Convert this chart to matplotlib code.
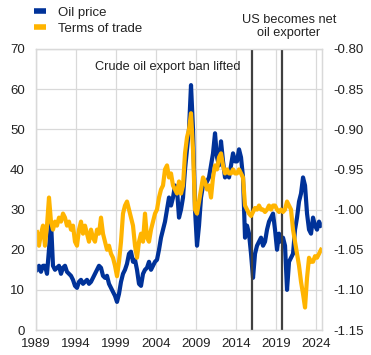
import matplotlib.pyplot as plt
import numpy as np
from matplotlib.lines import Line2D

plt.rcParams['font.family'] = ['Liberation Sans', 'DejaVu Sans']
plt.rcParams['axes.unicode_minus'] = False

# quarterly readings, 1989Q1 .. 2024Q3
oil_price = [
    15, 16, 14.5, 16,      # 1989
    16, 14, 20, 27,        # 1990
    16, 15, 15.5, 16,      # 1991
    14, 15.5, 16, 14.5,    # 1992
    14, 13.5, 12.5, 11,    # 1993
    10.5, 12, 12.5, 11.5,  # 1994
    12, 12.5, 11.5, 12,    # 1995
    13, 14, 15, 16,        # 1996
    15.5, 13.5, 13, 13.5,  # 1997
    11.5, 10.5, 9.5, 8.5,  # 1998
    7, 9, 12, 14,          # 1999
    15, 16.5, 19, 19.5,    # 2000
    17, 17.5, 15, 11.5,    # 2001
    11, 14, 15, 15.5,      # 2002
    17, 15, 16, 17,        # 2003
    17.5, 20, 23, 25,      # 2004
    27, 30, 33, 31,        # 2005
    33, 36, 35, 28,        # 2006
    30, 33, 40, 45,        # 2007
    50, 61, 50, 30,        # 2008
    21, 26, 33, 36,        # 2009
    36, 37, 38, 41,        # 2010
    44, 49, 43, 41,        # 2011
    47, 42, 38, 39,        # 2012
    38, 41, 44, 42,        # 2013
    42, 45, 43, 38,        # 2014
    23, 26, 24, 19,        # 2015
    13, 19, 21, 22,        # 2016
    23, 21, 22, 25,        # 2017
    27, 28, 29, 25,        # 2018
    20, 24, 22, 23,        # 2019
    21, 10, 17, 18,        # 2020
    19, 25, 28, 32,        # 2021
    34, 38, 36, 29,        # 2022
    25, 24, 28, 26,        # 2023
    25, 27, 26,            # 2024
]

terms_of_trade = [
    -1.028, -1.045, -1.030, -1.020,  # 1989
    -1.045, -1.020, -0.985, -1.015,  # 1990
    -1.025, -1.015, -1.020, -1.010,  # 1991
    -1.015, -1.005, -1.010, -1.020,  # 1992
    -1.015, -1.025, -1.020, -1.040,  # 1993
    -1.045, -1.025, -1.015, -1.030,  # 1994
    -1.020, -1.030, -1.040, -1.025,  # 1995
    -1.035, -1.040, -1.025, -1.030,  # 1996
    -1.010, -1.030, -1.040, -1.050,  # 1997
    -1.045, -1.055, -1.060, -1.070,  # 1998
    -1.083, -1.065, -1.040, -1.005,  # 1999
    -0.995, -0.990, -1.000, -1.010,  # 2000
    -1.020, -1.045, -1.060, -1.040,  # 2001
    -1.030, -1.040, -1.005, -1.035,  # 2002
    -1.040, -1.025, -1.015, -1.005,  # 2003
    -1.000, -0.985, -0.975, -0.970,  # 2004
    -0.950, -0.945, -0.960, -0.955,  # 2005
    -0.970, -0.975, -0.980, -0.965,  # 2006
    -0.980, -0.970, -0.930, -0.910,  # 2007
    -0.900, -0.880, -0.925, -1.000,  # 2008
    -1.005, -0.990, -0.975, -0.960,  # 2009
    -0.965, -0.975, -0.970, -0.985,  # 2010
    -0.960, -0.945, -0.950, -0.935,  # 2011
    -0.930, -0.945, -0.955, -0.950,  # 2012
    -0.955, -0.955, -0.950, -0.955,  # 2013
    -0.955, -0.950, -0.955, -0.960,  # 2014
    -0.995, -1.000, -1.005, -1.008,  # 2015
    -1.003, -0.998, -1.000, -0.995,  # 2016
    -1.000, -1.000, -1.003, -1.000,  # 2017
    -0.995, -1.000, -0.995, -0.995,  # 2018
    -1.000, -1.003, -1.000, -1.003,  # 2019
    -1.000, -0.990, -0.995, -1.000,  # 2020
    -1.025, -1.040, -1.055, -1.070,  # 2021
    -1.090, -1.105, -1.122, -1.085,  # 2022
    -1.060, -1.065, -1.065, -1.058,  # 2023
    -1.060, -1.055, -1.050,          # 2024
]

event_years = [2015.95, 2019.8]
year_ticks = [1989, 1994, 1999, 2004, 2009, 2014, 2019, 2024]

BLUE = '#003299'
YELLOW = '#FFB400'
GRID = '#d9d9d9'
TXT = '#222222'

# mid-quarter positions in decimal years
t = 1989 + (np.arange(len(oil_price)) + 0.5) / 4

fig = plt.figure(figsize=(3.71, 3.55), dpi=100)
ax = fig.add_axes([0.097, 0.0704, 0.771, 0.7916])
ax2 = ax.twinx()

ax.plot(t, oil_price, color=BLUE, lw=3.0, solid_joinstyle='round')
ax2.plot(t, terms_of_trade, color=YELLOW, lw=3.0, solid_joinstyle='round')

for x in event_years:
    ax.axvline(x, color='#404040', lw=1.6, zorder=3)

ax.set_xlim(1989, 2024.75)
ax.set_ylim(0, 70)
ax.set_yticks(range(0, 71, 10))
ax.set_xticks(year_ticks)
ax2.set_ylim(-1.15, -0.80)
ax2.set_yticks(np.arange(-1.15, -0.799, 0.05))
ax2.set_yticklabels([f'{v:.2f}' for v in np.arange(-1.15, -0.799, 0.05)])

ax.grid(True, color=GRID, lw=0.9)
ax.set_axisbelow(True)
for a in (ax, ax2):
    for s in a.spines.values():
        s.set_color(GRID)
        s.set_linewidth(0.9)
    a.tick_params(length=0, labelsize=9.5, colors=TXT)
ax.tick_params(axis='y', pad=8)
ax.tick_params(axis='x', pad=6)
ax2.tick_params(axis='y', pad=8)

ax.text(2014.6, 65.5, 'Crude oil export ban lifted', ha='right', va='center',
        fontsize=9.2, color=TXT)
ax.text(2020.6, 75.6, 'US becomes net\noil exporter', ha='center', va='center',
        fontsize=9.2, color=TXT, linespacing=1.05, clip_on=False)

handles = [Line2D([], [], color=BLUE, lw=4, solid_capstyle='butt'),
           Line2D([], [], color=YELLOW, lw=4, solid_capstyle='butt')]
fig.legend(handles, ['Oil price', 'Terms of trade'], loc='upper left',
           bbox_to_anchor=(0.06, 1.015), frameon=False, fontsize=9.5,
           handlelength=0.9, handletextpad=0.9, labelspacing=0.3,
           labelcolor=TXT)

fig.savefig('out.png', dpi=100)
